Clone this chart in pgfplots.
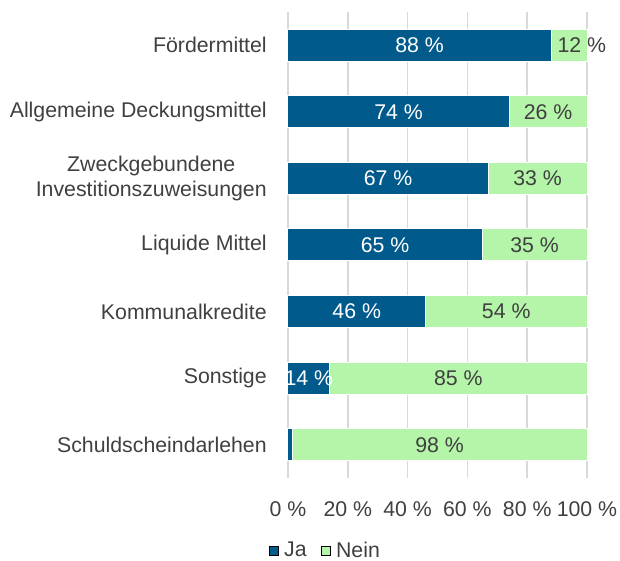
\documentclass[border=0pt]{standalone}
\usepackage{pgfplots}
\pgfplotsset{compat=1.18}
\usepackage{fontspec}
\setmainfont{Liberation Sans}
\definecolor{jablue}{HTML}{005A8C}
\definecolor{neingreen}{HTML}{B4F5AA}
\definecolor{txtgrey}{HTML}{404040}
\definecolor{gridgrey}{HTML}{D9D9D9}
\begin{document}
\begin{tikzpicture}[x=1pt,y=1pt]
\fontsize{21.3}{25}\selectfont
\begin{axis}[
  at={(0,0)}, anchor=south west,
  scale only axis,
  width=299pt, height=466pt,
  xmin=0, xmax=100,
  ymin=-0.5, ymax=6.5,
  axis line style={draw=none},
  xmajorgrids=true,
  grid style={gridgrey, line width=1.5pt},
  xtick={0,20,40,60,80,100},
  xticklabels={0 \%,20 \%,40 \%,60 \%,80 \%,100 \%},
  ytick={0,1,2,3,4,5,6},
  yticklabels={Schuldscheindarlehen,Sonstige,Kommunalkredite,Liquide Mittel,{Zweckgebundene\\Investitionszuweisungen},Allgemeine Deckungsmittel,Fördermittel},
  major tick length=0pt,
  yticklabel style={align=center, font=\fontsize{21.3}{25}\selectfont, text=txtgrey, xshift=-14pt},
  xticklabel style={font=\fontsize{21.3}{25}\selectfont, text=txtgrey, yshift=-16pt},
  legend style={at={(0.125,-0.157)}, anchor=center, draw=none, legend columns=2,
    font=\fontsize{21.3}{25}\selectfont, text=txtgrey, inner sep=0pt,
    /tikz/every odd column/.append style={column sep=4pt},
    /tikz/every even column/.append style={column sep=12pt}},
  legend image code/.code={\fill[#1] (0pt,-4.5pt) rectangle (9pt,4.5pt);},
  clip=false,
]
% Ja + Nein (full length) drawn first
\addplot[xbar, bar width=32pt, bar shift=0pt, fill=neingreen, draw=white, line width=1pt, forget plot]
  coordinates {(100,6) (100,5) (100,4) (100,3) (100,2) (100,1) (100,0)};
% Ja
\addplot[xbar, bar width=32pt, bar shift=0pt, fill=jablue, draw=white, line width=1pt, forget plot]
  coordinates {(88,6) (74,5) (67,4) (65,3) (46,2) (14,1) (1.5,0)};
% legend entries
\addlegendimage{fill=jablue}
\addlegendentry{Ja}
\addlegendimage{fill=neingreen}
\addlegendentry{Nein}
% Ja labels
\addplot[draw=none, mark=none, only marks, forget plot,
  nodes near coords, point meta=explicit symbolic,
  nodes near coords style={anchor=center, text=white, font=\fontsize{21.3}{25}\selectfont}]
  table[meta=lab] {
x y lab
44 6 {88 \%}
37 5 {74 \%}
33.5 4 {67 \%}
32.5 3 {65 \%}
23 2 {46 \%}
7 1 {14 \%}
};
% Nein labels
\addplot[draw=none, mark=none, only marks, forget plot,
  nodes near coords, point meta=explicit symbolic,
  nodes near coords style={anchor=center, text=txtgrey, font=\fontsize{21.3}{25}\selectfont}]
  table[meta=lab] {
x y lab
98.3 6 {12 \%}
87 5 {26 \%}
83.5 4 {33 \%}
82.5 3 {35 \%}
73 2 {54 \%}
57 1 {85 \%}
50.7 0 {98 \%}
};
\end{axis}
\pgfresetboundingbox
\path (-288pt,-83pt) rectangle (332pt,478pt);
\end{tikzpicture}
\end{document}
